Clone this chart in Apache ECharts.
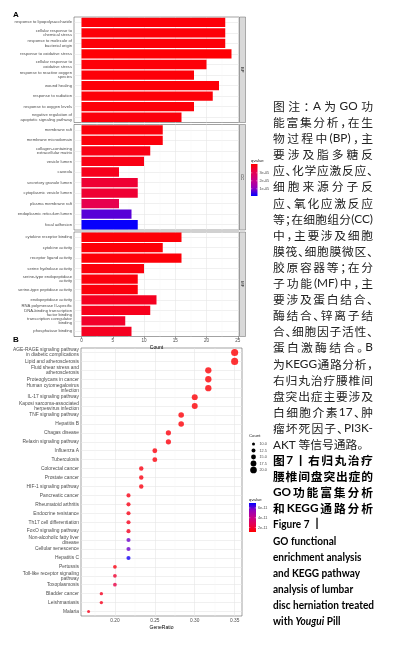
<!DOCTYPE html>
<html>
<head>
<meta charset="utf-8">
<script src="https://cdn.jsdelivr.net/npm/echarts@6/dist/echarts.min.js"></script>
<style>
  html, body { margin: 0; padding: 0; background: #fff; }
  #chart { position: absolute; left: 0; top: 0; width: 395px; height: 651px; }
  #caption {
    position: absolute; left: 273px; top: 98px; width: 100px;
    font-family: "Noto Sans CJK SC", sans-serif; font-size: 11.8px; color: #222;
    font-feature-settings: "halt";
  }
  #caption .ln { height: 16.1px; line-height: 16.1px; white-space: nowrap; }
  #caption .j { display: flex; justify-content: space-between; }
  #caption .b { font-weight: bold; color: #000; }
  #caption .lat { font-family: Lato, "Noto Sans CJK SC", sans-serif; }
  #caption .en { font-family: Lato, "Noto Sans CJK SC", sans-serif; font-size: 12px; }
  #caption .en span.fit { display: inline-block; transform-origin: 0 50%; }
</style>
</head>
<body>
<div id="chart"></div>
<div id="caption"></div>
<script>
// ---- 数据 (A: GO, B: KEGG) ----
const bpTerms = ['response to lipopolysaccharide', 'cellular response to\nchemical stress', 'response to molecule of\nbacterial origin', 'response to oxidative stress', 'cellular response to\noxidative stress', 'response to reactive oxygen\nspecies', 'wound healing', 'response to radiation', 'response to oxygen levels', 'negative regulation of\napoptotic signaling pathway']
const bpCount = [23, 23, 23, 24, 20, 18, 22, 21, 18, 16]
const bpQ = [4.0e-5, 4.0e-5, 4.0e-5, 4.05e-5, 4.0e-5, 4.0e-5, 4.0e-5, 4.0e-5, 4.0e-5, 3.95e-5]

const ccTerms = ['membrane raft', 'membrane microdomain', 'collagen-containing\nextracellular matrix', 'vesicle lumen', 'caveola', 'secretory granule lumen', 'cytoplasmic vesicle lumen', 'plasma membrane raft', 'endoplasmic reticulum lumen', 'focal adhesion']
const ccCount = [13, 13, 11, 10, 6, 9, 9, 6, 8, 9]
const ccQ = [3.95e-5, 3.95e-5, 3.85e-5, 3.85e-5, 3.75e-5, 3.45e-5, 3.45e-5, 3.1e-5, 0.7e-5, 0.15e-5]

const mfTerms = ['cytokine receptor binding', 'cytokine activity', 'receptor ligand activity', 'serine hydrolase activity', 'serine-type endopeptidase\nactivity', 'serine-type peptidase activity', 'endopeptidase activity', 'RNA polymerase II-specific\nDNA-binding transcription\nfactor binding', 'transcription coregulator\nbinding', 'phosphatase binding']
const mfCount = [16, 13, 16, 10, 9, 9, 12, 11, 7, 8]
const mfQ = [4.0e-5, 4.0e-5, 4.0e-5, 3.95e-5, 3.95e-5, 3.95e-5, 3.7e-5, 3.75e-5, 3.55e-5, 3.7e-5]

const facetNames = ['BP', 'CC', 'MF']
const countTicks = [0, 5, 10, 15, 20, 25]
const countMinor = [2.5, 7.5, 12.5, 17.5, 22.5]
const goQTicks = [3e-5, 2e-5, 1e-5]
const goQLabels = ['3e-05', '2e-05', '1e-05']

const keggTerms = ['AGE-RAGE signaling pathway\nin diabetic complications', 'Lipid and atherosclerosis', 'Fluid shear stress and\natherosclerosis', 'Proteoglycans in cancer', 'Human cytomegalovirus\ninfection', 'IL-17 signaling pathway', 'Kaposi sarcoma-associated\nherpesvirus infection', 'TNF signaling pathway', 'Hepatitis B', 'Chagas disease', 'Relaxin signaling pathway', 'Influenza A', 'Tuberculosis', 'Colorectal cancer', 'Prostate cancer', 'HIF-1 signaling pathway', 'Pancreatic cancer', 'Rheumatoid arthritis', 'Endocrine resistance', 'Th17 cell differentiation', 'FoxO signaling pathway', 'Non-alcoholic fatty liver\ndisease', 'Cellular senescence', 'Hepatitis C', 'Pertussis', 'Toll-like receptor signaling\npathway', 'Toxoplasmosis', 'Bladder cancer', 'Leishmaniasis', 'Malaria']
const keggCount = [21, 21, 19, 19, 19, 18, 18, 17, 17, 16, 16, 15, 15, 14, 14, 14, 13, 13, 13, 13, 13, 13, 13, 13, 12, 12, 12, 11, 11, 10]
const keggRatio = [0.350, 0.350, 0.317, 0.317, 0.317, 0.300, 0.300, 0.283, 0.283, 0.267, 0.267, 0.250, 0.250, 0.233, 0.233, 0.233, 0.217, 0.217, 0.217, 0.217, 0.217, 0.217, 0.217, 0.217, 0.200, 0.200, 0.200, 0.183, 0.183, 0.167]
const keggQ = [1.15e-11, 1.15e-11, 1.2e-11, 1.2e-11, 1.2e-11, 1.2e-11, 1.2e-11, 1.25e-11, 1.25e-11, 1.3e-11, 1.3e-11, 1.3e-11, 1.3e-11, 1.4e-11, 1.4e-11, 1.4e-11, 1.5e-11, 1.5e-11, 1.5e-11, 1.6e-11, 1.7e-11, 5.9e-11, 5.9e-11, 6.8e-11, 1.4e-11, 2.0e-11, 2.4e-11, 1.7e-11, 1.6e-11, 1.6e-11]
const ratioTicks = [0.20, 0.25, 0.30, 0.35]
const ratioMinor = [0.175, 0.225, 0.275, 0.325]
const sizeTicks = [10, 12.5, 15, 17.5, 20]
const keggQTicks = [6e-11, 4e-11, 2e-11]
const keggQLabels = ['6e-11', '4e-11', '2e-11']

const captionLines = [
  ['图 注：A 为 GO 功', 'j'], ['能富集分析，在生', 'j'], ['物过程中 (BP)，主', 'j'],
  ['要涉及脂多糖反', 'j'], ['应、化学应激反应、', 'j'], ['细胞来源分子反', 'j'],
  ['应、氧化应激反应', 'j'], ['等；在细胞组分 (CC)', 'j'], ['中，主要涉及细胞', 'j'],
  ['膜筏、细胞膜微区、', 'j'], ['胶原容器等；在分', 'j'], ['子功能 (MF) 中，主', 'j'],
  ['要涉及蛋白结合、', 'j'], ['酶结合、锌离子结', 'j'], ['合、细胞因子活性、', 'j'],
  ['蛋白激酶结合。B', 'j'], ['为KEGG 通路分析，', 'j'], ['右归丸治疗腰椎间', 'j'],
  ['盘突出症主要涉及', 'j'], ['白细胞介素 17、肿', 'j'], ['瘤坏死因子、PI3K-', 'j'],
  ['AKT 等信号通路。', 'l'],
  ['图 7 丨 右归丸治疗', 'jb'], ['腰椎间盘突出症的', 'jb'], ['GO 功能富集分析', 'jb'], ['和 KEGG 通路分析', 'jb'],
  ['Figure 7 丨', 'eb'], ['GO functional', 'eb'], ['enrichment analysis', 'eb'], ['and KEGG pathway', 'eb'],
  ['analysis of lumbar', 'eb'], ['disc herniation treated', 'eb'], ['with <i>Yougui</i> Pill', 'eb'],
]

// ---- 布局 ----
const FONT = '"Liberation Sans", Arial, sans-serif'
const LABEL = '#4d4d4d'
const A_LEFT = 74, A_WIDTH = 165
const aPanels = [{ top: 17, h: 105.5 }, { top: 124.5, h: 105.5 }, { top: 232, h: 104.5 }]
const B_GRID = { left: 81, top: 348, width: 161, height: 268 }
const goQMin = 0.1e-5, goQMax = 4.1e-5
const keggQMin = 1.1e-11, keggQMax = 7.0e-11
const ramp = ['#0000FF', '#9300BC', '#C80088', '#E7004F', '#FF0000']

const sizeOf = (c) => 3 + 0.37 * (c - 10)

const gridBorder = { show: true, backgroundColor: '#fff', borderColor: '#444', borderWidth: 0.5 }
const majorLine = { show: true, lineStyle: { color: '#e6e6e6', width: 0.6 } }
const minorLine = { show: true, lineStyle: { color: '#f3f3f3', width: 0.4 } }

const grids = aPanels.map((p) => ({ left: A_LEFT, top: p.top, width: A_WIDTH, height: p.h, ...gridBorder }))
grids.push({ ...B_GRID, ...gridBorder })

const xAxes = []
aPanels.forEach((p, i) => {
  const last = i === aPanels.length - 1
  xAxes.push({
    type: 'value', gridIndex: i, min: -1.2, max: 25.2, position: 'bottom',
    axisLine: { show: false },
    axisTick: { show: last, length: 2, customValues: countTicks, lineStyle: { color: '#333', width: 0.5 } },
    axisLabel: { show: last, customValues: countTicks, fontSize: 4.6, color: LABEL, margin: 2, fontFamily: FONT },
    splitLine: majorLine,
    name: last ? 'Count' : '', nameLocation: 'middle', nameGap: 9,
    nameTextStyle: { fontSize: 5, color: '#000', fontFamily: FONT },
  })
})
aPanels.forEach((p, i) => {
  xAxes.push({
    type: 'value', gridIndex: i, min: -1.2, max: 25.2, position: 'top',
    axisLine: { show: false }, axisLabel: { show: false },
    axisTick: { show: false, customValues: countMinor },
    splitLine: minorLine,
  })
})
xAxes.push({
  type: 'value', gridIndex: 3, min: 0.1575, max: 0.3592, position: 'bottom',
  axisLine: { show: false },
  axisTick: { length: 2, customValues: ratioTicks, lineStyle: { color: '#333', width: 0.5 } },
  axisLabel: { customValues: ratioTicks, formatter: (v) => v.toFixed(2), fontSize: 4.8, color: LABEL, margin: 2, fontFamily: FONT },
  splitLine: majorLine,
  name: 'GeneRatio', nameLocation: 'middle', nameGap: 9,
  nameTextStyle: { fontSize: 5, color: '#000', fontFamily: FONT },
})
xAxes.push({
  type: 'value', gridIndex: 3, min: 0.1575, max: 0.3592, position: 'top',
  axisLine: { show: false }, axisLabel: { show: false },
  axisTick: { show: false, customValues: ratioMinor },
  splitLine: minorLine,
})

const catAxis = (gridIndex, data, fontSize, lineHeight) => ({
  type: 'category', gridIndex, data, inverse: true,
  axisLine: { show: false },
  axisTick: { alignWithLabel: true, interval: 0, length: 2, lineStyle: { color: '#333', width: 0.5 } },
  axisLabel: { interval: 0, fontSize, lineHeight, color: LABEL, margin: 2, fontFamily: FONT },
  splitLine: { show: true, interval: 0, alignWithLabel: true, lineStyle: { color: '#e6e6e6', width: 0.6 } },
})
const yAxes = [
  catAxis(0, bpTerms, 4.2, 4.4),
  catAxis(1, ccTerms, 4.2, 4.4),
  catAxis(2, mfTerms, 4.2, 4.4),
  catAxis(3, keggTerms, 4.9, 4.9),
]

const goSets = [[bpTerms, bpCount, bpQ], [ccTerms, ccCount, ccQ], [mfTerms, mfCount, mfQ]]
const series = goSets.map(([terms, counts, qs], i) => ({
  type: 'bar', xAxisIndex: i, yAxisIndex: i, barWidth: 9.3, silent: true,
  data: counts.map((c, k) => [c, terms[k], qs[k]]),
  encode: { x: 0, y: 1 },
}))
series.push({
  type: 'scatter', xAxisIndex: 6, yAxisIndex: 3, silent: true,
  data: keggRatio.map((r, k) => [r, keggTerms[k], keggQ[k], keggCount[k]]),
  encode: { x: 0, y: 1 },
  symbolSize: (v) => sizeOf(v[3]),
})

// ---- 图例与分面条 ----
const txt = (text, x, y, size, extra) => ({
  type: 'text', x, y, silent: true,
  style: Object.assign({ text, fontSize: size, fontFamily: FONT, fill: '#1a1a1a', textAlign: 'left', textVerticalAlign: 'middle', align: 'left', verticalAlign: 'middle' }, extra || {}),
})
const graphic = []
graphic.push(txt('A', 13, 15, 8, { fontWeight: 'bold', fill: '#000' }))
graphic.push(txt('B', 13, 340, 8, { fontWeight: 'bold', fill: '#000' }))
aPanels.forEach((p, i) => {
  graphic.push({ type: 'rect', silent: true, shape: { x: A_LEFT + A_WIDTH + 0.5, y: p.top, width: 6, height: p.h }, style: { fill: '#d9d9d9', stroke: '#444', lineWidth: 0.4 } })
  graphic.push({ type: 'text', silent: true, x: A_LEFT + A_WIDTH + 3.5, y: p.top + p.h / 2, rotation: -Math.PI / 2,
    style: { text: facetNames[i], fontSize: 4, fontFamily: FONT, fill: '#1a1a1a', textAlign: 'center', textVerticalAlign: 'middle', align: 'center', verticalAlign: 'middle' } })
})

// GO qvalue 色标 (上红下蓝)
const gL = { x: 251, y: 164, w: 6.5, h: 32 }
graphic.push(txt('qvalue', gL.x, gL.y - 3.5, 4.3))
graphic.push({ type: 'rect', silent: true, shape: { x: gL.x, y: gL.y, width: gL.w, height: gL.h },
  style: { fill: new echarts.graphic.LinearGradient(0, 0, 0, 1, ramp.slice().reverse().map((c, k) => ({ offset: k / 4, color: c }))) } })
goQTicks.forEach((q, k) => {
  const y = gL.y + (goQMax - q) / (goQMax - goQMin) * gL.h
  graphic.push({ type: 'line', silent: true, shape: { x1: gL.x, y1: y, x2: gL.x + 1.3, y2: y }, style: { stroke: '#fff', lineWidth: 0.4 } })
  graphic.push({ type: 'line', silent: true, shape: { x1: gL.x + gL.w - 1.3, y1: y, x2: gL.x + gL.w, y2: y }, style: { stroke: '#fff', lineWidth: 0.4 } })
  graphic.push(txt(goQLabels[k], gL.x + gL.w + 2, y, 3.8, { fill: LABEL }))
})

// KEGG Count 图例
graphic.push(txt('Count', 249, 436, 4.3))
sizeTicks.forEach((c, k) => {
  const y = 444 + k * 6.5
  graphic.push({ type: 'circle', silent: true, shape: { cx: 253.5, cy: y, r: sizeOf(c) / 2 }, style: { fill: '#000' } })
  graphic.push(txt(c.toFixed(1), 259.5, y, 3.8, { fill: LABEL }))
})

// KEGG qvalue 色标 (上蓝下红)
const kL = { x: 249, y: 503, w: 7, h: 29 }
graphic.push(txt('qvalue', kL.x, kL.y - 3.5, 4.3))
graphic.push({ type: 'rect', silent: true, shape: { x: kL.x, y: kL.y, width: kL.w, height: kL.h },
  style: { fill: new echarts.graphic.LinearGradient(0, 0, 0, 1, ramp.map((c, k) => ({ offset: k / 4, color: c }))) } })
keggQTicks.forEach((q, k) => {
  const y = kL.y + (keggQMax - q) / (keggQMax - keggQMin) * kL.h
  graphic.push({ type: 'line', silent: true, shape: { x1: kL.x, y1: y, x2: kL.x + 1.3, y2: y }, style: { stroke: '#fff', lineWidth: 0.4 } })
  graphic.push({ type: 'line', silent: true, shape: { x1: kL.x + kL.w - 1.3, y1: y, x2: kL.x + kL.w, y2: y }, style: { stroke: '#fff', lineWidth: 0.4 } })
  graphic.push(txt(keggQLabels[k], kL.x + kL.w + 2, y, 3.8, { fill: LABEL }))
})

const option = {
  animation: false,
  backgroundColor: '#fff',
  grid: grids,
  xAxis: xAxes,
  yAxis: yAxes,
  visualMap: [
    { type: 'continuous', show: false, seriesIndex: [0, 1, 2], dimension: 2, min: goQMin, max: goQMax, inRange: { color: ramp } },
    { type: 'continuous', show: false, seriesIndex: 3, dimension: 2, min: keggQMin, max: keggQMax, inRange: { color: ramp.slice().reverse() } },
  ],
  series,
  graphic,
}

const chart = echarts.init(document.getElementById('chart'), null, { renderer: 'canvas' })
chart.setOption(option)

// ---- 图注 ----
const esc = (s) => s.replace(/&/g, '&amp;').replace(/</g, '&lt;')
const cap = document.getElementById('caption')
const enSpans = []
captionLines.forEach(([text, kind]) => {
  const div = document.createElement('div')
  div.className = 'ln'
  if (kind.includes('b')) div.classList.add('b')
  if (kind[0] === 'e') {
    div.classList.add('en')
    const s = document.createElement('span')
    s.className = 'fit'
    s.innerHTML = text
    div.appendChild(s)
    enSpans.push(s)
  } else if (kind[0] === 'j') {
    div.classList.add('j')
    const tokens = text.match(/[A-Za-z0-9()\-]+|\S/g)
    div.innerHTML = tokens.map((t) => /[A-Za-z0-9]/.test(t) ? '<span class="lat">' + esc(t) + '</span>' : '<span>' + esc(t) + '</span>').join('')
  } else {
    div.innerHTML = esc(text).replace(/([A-Za-z0-9]+)/g, '<span class="lat">$1</span>')
  }
  cap.appendChild(div)
})
// 英文图题收窄到栏宽
const widest = Math.max(...enSpans.map((s) => s.getBoundingClientRect().width))
const k = Math.min(1, 101 / widest)
enSpans.forEach((s) => { s.style.transform = 'scaleX(' + k + ')' })
</script>
</body>
</html>
